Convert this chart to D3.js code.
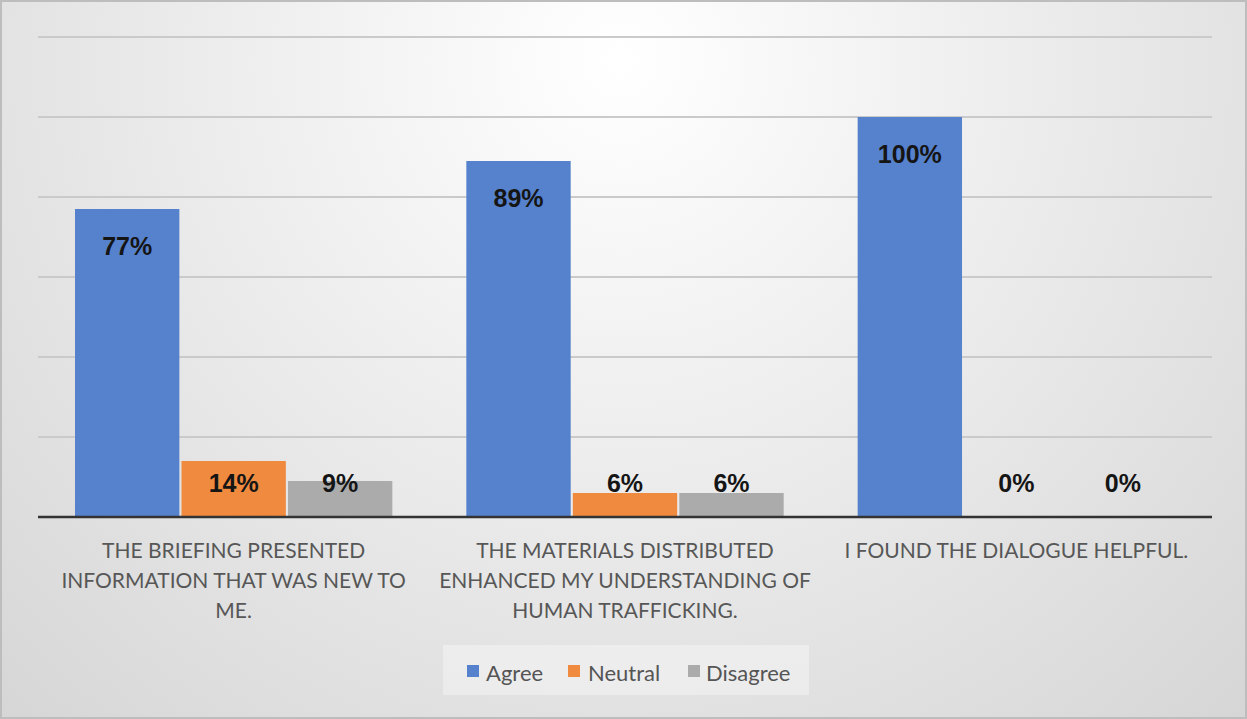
<!DOCTYPE html>
<html><head><meta charset="utf-8">
<script src="https://cdn.jsdelivr.net/npm/d3@7"></script>
<style>html,body{margin:0;padding:0;background:#fff;}svg{display:block;}</style>
</head><body>
<svg id="c" width="1247" height="719"></svg>
<script>
const categories = [
  ["THE BRIEFING PRESENTED", "INFORMATION THAT WAS NEW TO", "ME."],
  ["THE MATERIALS DISTRIBUTED", "ENHANCED MY UNDERSTANDING OF", "HUMAN TRAFFICKING."],
  ["I FOUND THE DIALOGUE HELPFUL."]
];
const seriesNames = ["Agree", "Neutral", "Disagree"];
const agree = [77, 89, 100];
const neutral = [14, 6, 0];
const disagree = [9, 6, 0];
const yTicks = [0, 20, 40, 60, 80, 100, 120];
const colors = ["#5682CD", "#F08A3F", "#ABABAB"];

const series = [agree, neutral, disagree];
const W = 1247, H = 719;
const svg = d3.select("#c");
const defs = svg.append("defs");
const rg = defs.append("radialGradient").attr("id","bg")
  .attr("gradientUnits","userSpaceOnUse").attr("cx",620).attr("cy",60).attr("r",900);
rg.append("stop").attr("offset","0%").attr("stop-color","#ffffff");
rg.append("stop").attr("offset","100%").attr("stop-color","#d6d6d6");
svg.append("rect").attr("x",0).attr("y",0).attr("width",W).attr("height",H).attr("fill","url(#bg)");
svg.append("rect").attr("x",1).attr("y",1).attr("width",W-2).attr("height",H-2)
  .attr("fill","none").attr("stroke","#bdbdbd").attr("stroke-width",2);

const m = {left: 38, right: 35, top: 37, bottom: 202};
const x0 = d3.scaleBand().domain(d3.range(categories.length)).range([m.left, W - m.right]).paddingInner(0).paddingOuter(0);
const x1 = d3.scaleBand().domain(d3.range(seriesNames.length)).range([37, x0.bandwidth() - 37]).paddingInner(0.02);
const y = d3.scaleLinear().domain([0, 120]).range([H - m.bottom, m.top]);

// gridlines
svg.append("g").selectAll("line").data(yTicks.filter(t => t > 0)).join("line")
  .attr("x1", m.left).attr("x2", W - m.right)
  .attr("y1", d => y(d)).attr("y2", d => y(d))
  .attr("stroke", "#cacaca").attr("stroke-width", 2);

const groups = svg.append("g").selectAll("g").data(categories).join("g")
  .attr("transform", (d, i) => `translate(${x0(i)},0)`);

groups.each(function(cat, ci) {
  const g = d3.select(this);
  series.forEach((vals, si) => {
    const v = vals[ci];
    g.append("rect")
      .attr("x", x1(si)).attr("width", x1.bandwidth())
      .attr("y", y(v)).attr("height", y(0) - y(v))
      .attr("fill", colors[si]);
    const ly = Math.min(y(v) + 37, y(0) - 34);
    g.append("text")
      .attr("x", x1(si) + x1.bandwidth() / 2).attr("y", ly)
      .attr("text-anchor", "middle").attr("dominant-baseline", "central")
      .attr("font-family", "Liberation Sans, Arial, sans-serif").attr("font-weight", "bold")
      .attr("font-size", 25).attr("fill", "#151515")
      .text(v + "%");
  });
  const t = g.append("text").attr("text-anchor", "middle")
    .attr("font-family", "Lato, 'Open Sans', sans-serif").attr("font-size", 21).attr("fill", "#575757");
  cat.forEach((line, li) => {
    t.append("tspan").attr("x", x0.bandwidth() / 2).attr("y", y(0) + 41 + li * 30).text(line);
  });
});

// baseline
svg.append("line").attr("x1", m.left).attr("x2", W - m.right)
  .attr("y1", y(0)).attr("y2", y(0)).attr("stroke", "#333").attr("stroke-width", 2.5);

// legend
const lg = svg.append("g");
lg.append("rect").attr("x", 443).attr("y", 645).attr("width", 366).attr("height", 50)
  .attr("fill", "#ffffff").attr("fill-opacity", 0.35);
const legX = [467, 568, 688];
const legT = [486, 588, 706];
seriesNames.forEach((n, i) => {
  lg.append("rect").attr("x", legX[i]).attr("y", 665).attr("width", 12).attr("height", 12).attr("fill", colors[i]);
  lg.append("text").attr("x", legT[i]).attr("y", 672).attr("dominant-baseline", "central")
    .attr("font-family", "Lato, 'Open Sans', sans-serif").attr("font-size", 22).attr("fill", "#555")
    .text(n);
});
</script>
</body></html>
